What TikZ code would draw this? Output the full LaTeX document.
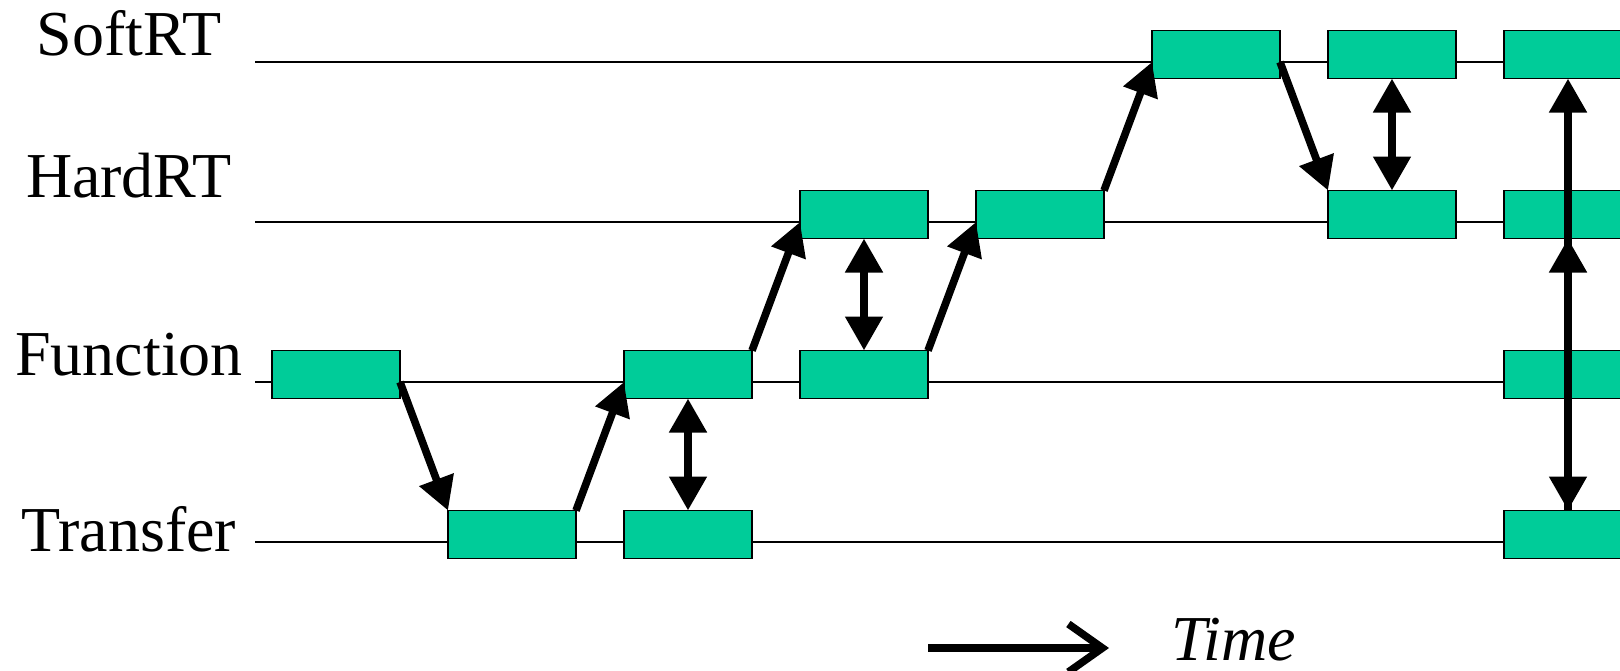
\documentclass[tikz,border=0pt]{standalone}
\usepackage{fontspec}
\setmainfont{Liberation Serif}
\usetikzlibrary{arrows.meta,calc}
\definecolor{taskfill}{RGB}{0,204,153}
\begin{document}
\begin{tikzpicture}[x=0.5pt,y=-0.5pt,
  task/.style={draw=black, line width=0.8pt, fill=taskfill,
    minimum width=64pt, minimum height=24pt, inner sep=0pt, outer sep=0pt,
    anchor=north west},
  lane/.style={line width=0.75pt},
  lanelabel/.style={font=\fontsize{32pt}{38pt}\selectfont, anchor=base, inner sep=0pt},
  hop/.style={line width=3.8pt, -{Triangle[length=16.5pt,width=17.5pt]}},
  sync/.style={line width=4pt, {Triangle[length=17pt,width=18pt]}-{Triangle[length=17pt,width=18pt]}},
  syncup/.style={line width=4pt, -{Triangle[length=17pt,width=18pt]}},
]
\useasboundingbox (0,0) rectangle (1620,670);
\clip (0,0) rectangle (1620,670);

% lane levels
\coordinate (yS) at (0,62);
\coordinate (yH) at (0,222);
\coordinate (yF) at (0,382);
\coordinate (yT) at (0,542);

% lane labels
\node[lanelabel] (lS) at (129,55)  {SoftRT};
\node[lanelabel] (lH) at (129,197) {HardRT};
\node[lanelabel] (lF) at (129,375) {Function};
\node[lanelabel] (lT) at (129,551) {Transfer};

% lane lines
\draw[lane] (255,62)  -- (1620,62);
\draw[lane] (255,222) -- (1620,222);
\draw[lane] (255,382) -- (1620,382);
\draw[lane] (255,542) -- (1620,542);

% tasks
\node[task] (F0) at (272,350.5) {};
\node[task] (T1) at (448,510.5) {};
\node[task] (F2) at (624,350.5) {};
\node[task] (T2) at (624,510.5) {};
\node[task] (H3) at (800,190.5) {};
\node[task] (F3) at (800,350.5) {};
\node[task] (H4) at (976,190.5) {};
\node[task] (S5) at (1152,30.5) {};
\node[task] (S6) at (1328,30.5) {};
\node[task] (H6) at (1328,190.5) {};
\node[task] (S7) at (1504,30.5) {};
\node[task] (H7) at (1504,190.5) {};
\node[task] (F7) at (1504,350.5) {};
\node[task] (T7) at (1504,510.5) {};

% hand-overs between levels
\draw[hop] (F0.east |- yF) -- (T1.north west);
\draw[hop] (T1.north east) -- (F2.west |- yF);
\draw[hop] (F2.north east) -- (H3.west |- yH);
\draw[hop] (F3.north east) -- (H4.west |- yH);
\draw[hop] (H4.north east) -- (S5.west |- yS);
\draw[hop] (S5.east |- yS) -- (H6.north west);

% synchronisation
\draw[sync] (T2.north) -- (F2.south);
\draw[sync] (F3.north) -- (H3.south);
\draw[sync] (H6.north) -- (S6.south);
\draw[sync] (T7.north) -- (S7.south);
\draw[syncup] (T7.north) -- (H7.south);

% time axis
\node[font=\fontsize{32pt}{38pt}\selectfont\itshape, anchor=base west, inner sep=0pt] (time) at (1171,660) {Time};
\coordinate (t0) at (928,648);
\coordinate (t1) at (1109,648);
\draw[line width=3.8pt, -{Straight Barb[length=17pt,width=24pt]}] (t0) -- (t1);
\end{tikzpicture}
\end{document}
